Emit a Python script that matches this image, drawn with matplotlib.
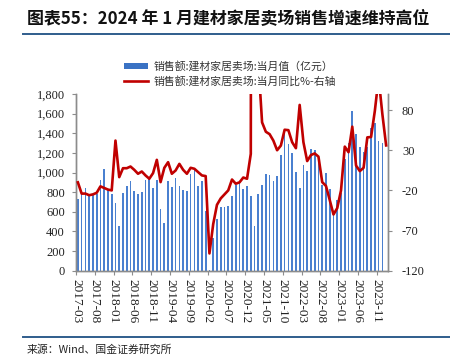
import matplotlib
matplotlib.use("Agg")
import matplotlib.pyplot as plt
import numpy as np
from matplotlib.patches import Patch
from matplotlib.lines import Line2D

# ---- data ----
sales = [733, 790, 839, 770, 775, 780, 924, 1036, 822, 784,
         689, 455, 791, 859, 917, 812, 781, 805, 924, 930,
         846, 924, 625, 486, 917, 852, 947, 862, 822, 815,
         988, 1036, 862, 913, 608, 8, 330, 530, 649, 649,
         655, 761, 873, 890, 832, 859, 761, 455, 778, 876,
         988, 975, 917, 968, 1178, 1416, 1290, 1199, 1002, 846,
         1076, 1015, 1240, 1229, 1168, 873, 995, 832, 594, 720,
         788, 1134, 1297, 1627, 1392, 1263, 1209, 1263, 1450, 1501,
         1321, 1297, np.nan]
yoy = [-10, -24, -24, -26, -25, -23, -15, -17, -19, -20,
       42, -3.5, 7.6, 7.6, 9.7, 5.6, 0.7, 3.5, -1.4, -5.5,
       1.5, 18, -9.7, 8.1, 15.1, 0.7, 4.8, 13, 5.6, 0.7,
       8.1, 6.9, 2.7, -1.4, -2.2, -98.5, -62, -38, -30, -25,
       -20, -6.5, -11.7, -10, -4, -5.5, 25.5, 4000, 140, 64.7,
       53, 50, 42, 30, 35.8, 55.5, 55, 40, 32.5, 86.4,
       40, 16.5, 24, 26, 22, -9.7, -14.5, -32, -50, -42,
       -20, 34.5, 27.5, 59.3, 11, 4, 8.1, 46, 46.5, 79,
       120, 75, 36]
tick_labels = ["2017-03", "2017-08", "2018-01", "2018-06", "2018-11",
               "2019-04", "2019-09", "2020-02", "2020-07", "2020-12",
               "2021-05", "2021-10", "2022-03", "2022-08", "2023-01",
               "2023-06", "2023-11"]
left_ticks = [0, 200, 400, 600, 800, 1000, 1200, 1400, 1600, 1800]
right_ticks = [-120, -70, -20, 30, 80]

title = "图表55：2024 年 1 月建材家居卖场销售增速维持高位"
label_bar = "销售额:建材家居卖场:当月值（亿元）"
label_line = "销售额:建材家居卖场:当月同比%-右轴"
source = "来源：Wind、国金证券研究所"

cjk = ["Noto Sans CJK SC", "DejaVu Sans"]
serif = ["Liberation Serif", "DejaVu Serif"]
bar_color = "#4a80d0"
line_color = "#c00000"
spine_color = "#8c8c8c"

fig = plt.figure(figsize=(4.5, 3.6), dpi=100)
ax = fig.add_axes([76 / 450, 1 - 270.7 / 360, (388 - 76) / 450, (270.7 - 94) / 360])

x = np.arange(len(sales))
ax.bar(x, sales, width=0.45, color=bar_color, zorder=2)
ax.set_xlim(-0.5, len(sales) - 0.5)
ax.set_ylim(0, 1800)
ax.set_yticks(left_ticks)
ax.set_yticklabels([f"{v:,}" for v in left_ticks], fontfamily=serif, fontsize=9, color="#222222")
ax.set_xticks(np.arange(0, len(sales), 5) - 0.5)
ax.set_xticklabels(tick_labels, rotation=270, fontfamily=serif, fontsize=9.5, color="#222222")

ax2 = ax.twinx()
ax2.plot(x, yoy, color=line_color, linewidth=1.9, zorder=3)
ax2.set_ylim(-120, 100)
ax2.set_yticks(right_ticks)
ax2.set_yticklabels([str(v) for v in right_ticks], fontfamily=serif, fontsize=9, color="#222222")

for a in (ax, ax2):
    a.spines["top"].set_visible(False)
    for s in ("left", "right", "bottom"):
        a.spines[s].set_color(spine_color)
        a.spines[s].set_linewidth(1.0)
    a.tick_params(axis="both", color=spine_color, length=3, width=0.8)
ax.tick_params(axis="y", pad=5)
ax.tick_params(axis="x", pad=3)
ax2.tick_params(axis="y", pad=7)

# title and rules
fig.text(27 / 450, 1 - 19 / 360, title, fontfamily=cjk, fontsize=12.2, fontweight="bold",
         fontstyle="italic", va="center", ha="left", color="#111111")
fig.add_artist(Line2D([23 / 450, 1.0], [1 - 34.3 / 360] * 2, color="#2f5d8c", linewidth=1.4))
fig.add_artist(Line2D([23 / 450, 1.0], [1 - 336.7 / 360] * 2, color="#2f5d8c", linewidth=1.4))
fig.text(27 / 450, 1 - 349.5 / 360, source, fontfamily=cjk, fontsize=7.8, va="center",
         ha="left", color="#222222")

handles = [Patch(facecolor="#3a72c4", edgecolor="none"),
           Line2D([], [], color=line_color, linewidth=1.9)]
leg = fig.legend(handles, [label_bar, label_line], loc="center",
                 bbox_to_anchor=(230 / 450, 1 - 73.5 / 360), frameon=False,
                 prop={"family": cjk, "size": 7.8}, handlelength=2.3, handleheight=0.5,
                 handletextpad=0.5, labelspacing=0.35, borderpad=0)
for t in leg.get_texts():
    t.set_color("#333333")

fig.savefig("out.png", dpi=100)
